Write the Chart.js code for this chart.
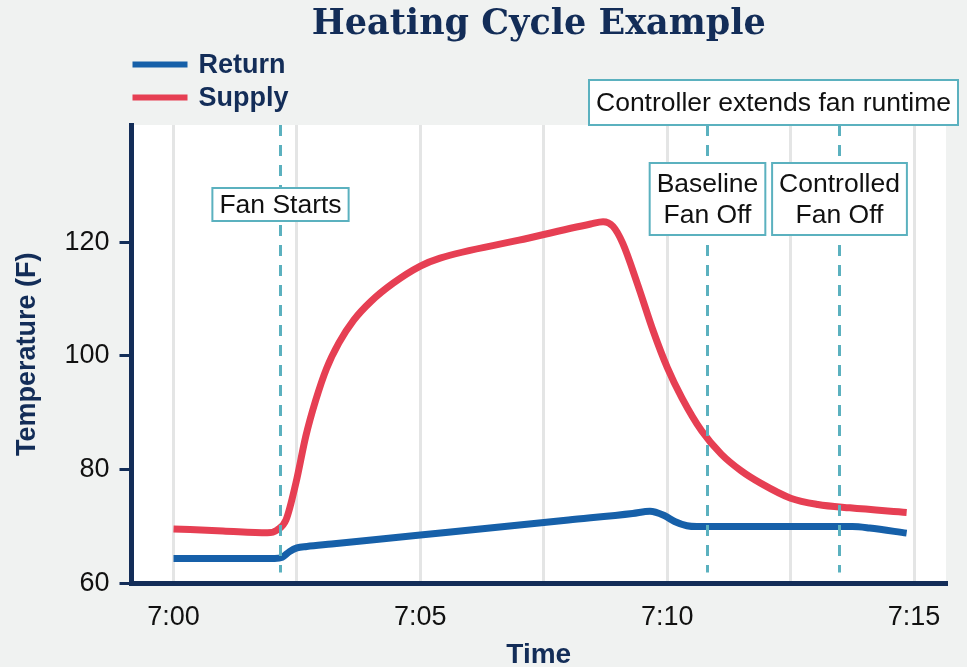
<!DOCTYPE html>
<html>
<head>
<meta charset="utf-8">
<script src="https://cdn.jsdelivr.net/npm/chart.js@4.4.1/dist/chart.umd.min.js"></script>
<style>
  html, body { margin: 0; padding: 0; background: #f0f2f1; }
  #wrap { width: 967px; height: 667px; }
</style>
</head>
<body>
<div id="wrap"><canvas id="chart" width="967" height="667"></canvas></div>
<script>
// minutes after 7:00
const returnTimes = [0, 1.0, 2.05, 2.2, 2.35, 2.5, 2.7, 3.2, 5.0, 8.0, 9.3, 9.65, 9.95, 10.15, 10.4, 10.6, 12.0, 13.75, 14.1, 14.85];
const returnTemps = [64.4, 64.4, 64.4, 64.6, 65.6, 66.25, 66.5, 66.94, 68.53, 71.17, 72.3, 72.7, 71.9, 70.9, 70.15, 70.0, 70.0, 70.0, 69.75, 68.85];

const supplyTimes = [0, 1.0, 1.9, 2.1, 2.28, 2.48, 2.68, 2.88, 3.1, 3.35, 3.65, 4.0, 4.45, 5.0, 5.4, 7.0, 8.45, 8.7, 8.9, 9.1, 9.4, 9.72, 10.0, 10.3, 10.7, 11.1, 11.5, 11.9, 12.5, 13.05, 13.7, 14.85];
const supplyTemps = [69.6, 69.25, 68.9, 69.4, 71.2, 77.7, 85.9, 92.2, 97.8, 102.3, 106.3, 109.6, 112.8, 115.8, 117.2, 120.35, 123.2, 123.6, 122.8, 119.8, 112.6, 104.3, 98.0, 92.6, 86.8, 82.7, 79.8, 77.6, 75.0, 73.9, 73.3, 72.5];

const gridMinutes = [0, 2.5, 5, 7.5, 10, 12.5, 15];
const tempTicks = [60, 80, 100, 120];

// event markers (minutes after 7:00) and their labels
const markerTimes = [2.16, 10.8, 13.47];
const markerLabels = [['Fan Starts'], ['Baseline', 'Fan Off'], ['Controlled', 'Fan Off']];
const spanLabel = 'Controller extends fan runtime';

const NAVY = '#132d58';
const TEAL = '#5bb1bf';
const SANS = "'Liberation Sans', Arial, sans-serif";

const toPoints = (xs, ys) => xs.map((x, i) => ({ x: x, y: ys[i] }));

// page background + white plot area
const backdrop = {
    id: 'backdrop',
    beforeDraw(chart) {
        const { ctx, chartArea: a } = chart;
        ctx.save();
        ctx.fillStyle = '#f0f2f1';
        ctx.fillRect(0, 0, chart.width, chart.height);
        ctx.fillStyle = '#ffffff';
        ctx.fillRect(a.left, a.top, a.right - a.left, a.bottom - a.top);
        ctx.restore();
    }
};

function drawBox(ctx, cx, top, height, lines, lineGap) {
    ctx.font = '26.5px ' + SANS;
    const w = Math.max(...lines.map(l => ctx.measureText(l).width)) + 14;
    ctx.fillStyle = '#ffffff';
    ctx.fillRect(cx - w / 2, top, w, height);
    ctx.strokeStyle = TEAL;
    ctx.lineWidth = 2;
    ctx.strokeRect(cx - w / 2, top, w, height);
    ctx.fillStyle = '#111111';
    ctx.textAlign = 'center';
    ctx.textBaseline = 'middle';
    const mid = top + height / 2;
    lines.forEach((l, i) => {
        ctx.fillText(l, cx, mid + (i - (lines.length - 1) / 2) * lineGap + 1);
    });
}

// dashed event lines with their labels
const markers = {
    id: 'markers',
    afterDatasetsDraw(chart) {
        const { ctx, chartArea: a, scales: { x } } = chart;
        const xs = markerTimes.map(t => Math.round(x.getPixelForValue(t)) + 0.5);
        ctx.save();
        ctx.strokeStyle = TEAL;
        ctx.lineWidth = 3;
        ctx.setLineDash([11, 9]);
        xs.forEach(px => {
            ctx.beginPath();
            ctx.moveTo(px, a.top);
            ctx.lineTo(px, a.bottom - 11);
            ctx.stroke();
        });
        ctx.setLineDash([]);
        drawBox(ctx, xs[0], a.top + 63, 33, markerLabels[0], 31);
        drawBox(ctx, xs[1], a.top + 38, 72, markerLabels[1], 31);
        drawBox(ctx, xs[2], a.top + 38, 72, markerLabels[2], 31);
        drawBox(ctx, (xs[1] + xs[2]) / 2, a.top - 45, 45, [spanLabel], 31);
        ctx.restore();
    }
};

// stacked legend at top left
const stackedLegend = {
    id: 'stackedLegend',
    afterDraw(chart) {
        const { ctx, chartArea: a } = chart;
        ctx.save();
        chart.data.datasets.forEach((ds, i) => {
            const y = 64.5 + i * 33;
            ctx.strokeStyle = ds.borderColor;
            ctx.lineWidth = 6;
            ctx.beginPath();
            ctx.moveTo(a.left + 1, y);
            ctx.lineTo(a.left + 56, y);
            ctx.stroke();
            ctx.fillStyle = NAVY;
            ctx.font = 'bold 27px ' + SANS;
            ctx.textAlign = 'left';
            ctx.textBaseline = 'middle';
            ctx.fillText(ds.label, a.left + 67, y + 1);
        });
        ctx.restore();
    }
};

new Chart(document.getElementById('chart'), {
    type: 'line',
    data: {
        datasets: [
            {
                label: 'Return',
                data: toPoints(returnTimes, returnTemps),
                borderColor: '#1660a9',
                borderWidth: 7,
                pointRadius: 0,
                cubicInterpolationMode: 'monotone'
            },
            {
                label: 'Supply',
                data: toPoints(supplyTimes, supplyTemps),
                borderColor: '#e63f53',
                borderWidth: 7,
                pointRadius: 0,
                cubicInterpolationMode: 'monotone'
            }
        ]
    },
    options: {
        responsive: false,
        devicePixelRatio: 1,
        animation: false,
        layout: { padding: { top: 0, right: 21, bottom: 0, left: 0 } },
        plugins: {
            legend: { display: false },
            tooltip: { enabled: false },
            title: {
                display: true,
                text: 'Heating Cycle Example',
                fullSize: false,
                color: NAVY,
                font: { family: "'DejaVu Serif', serif", weight: 'bold', size: 35, lineHeight: 1.2 },
                padding: { top: 4, bottom: 79 }
            }
        },
        scales: {
            x: {
                type: 'linear',
                min: -0.851,
                max: 15.647,
                afterBuildTicks: s => { s.ticks = gridMinutes.map(v => ({ value: v })); },
                afterFit: s => { s.height = 83.5; },
                grid: { color: '#e4e5e5', lineWidth: 3, drawTicks: false },
                border: { color: NAVY, width: 5 },
                ticks: {
                    color: '#111111',
                    font: { family: SANS, size: 27 },
                    padding: 18,
                    maxRotation: 0,
                    autoSkip: false,
                    callback: v => (v % 5 === 0 ? '7:' + String(v).padStart(2, '0') : '')
                },
                title: {
                    display: true,
                    text: 'Time',
                    color: NAVY,
                    font: { family: SANS, size: 28, weight: 'bold' },
                    padding: { top: 0, bottom: -5 }
                }
            },
            y: {
                min: 60,
                max: 140.6,
                afterBuildTicks: s => { s.ticks = tempTicks.map(v => ({ value: v })); },
                afterFit: s => { s.width = 131.5; },
                grid: { drawOnChartArea: false, drawTicks: true, tickLength: 12, color: NAVY, lineWidth: 3 },
                border: { color: NAVY, width: 5 },
                ticks: {
                    color: '#111111',
                    font: { family: SANS, size: 27 },
                    padding: 10
                },
                title: {
                    display: true,
                    text: 'Temperature (F)',
                    color: NAVY,
                    font: { family: SANS, size: 27, weight: 'bold' },
                    padding: { top: 11, bottom: 0 }
                }
            }
        }
    },
    plugins: [backdrop, markers, stackedLegend]
});
</script>
</body>
</html>
